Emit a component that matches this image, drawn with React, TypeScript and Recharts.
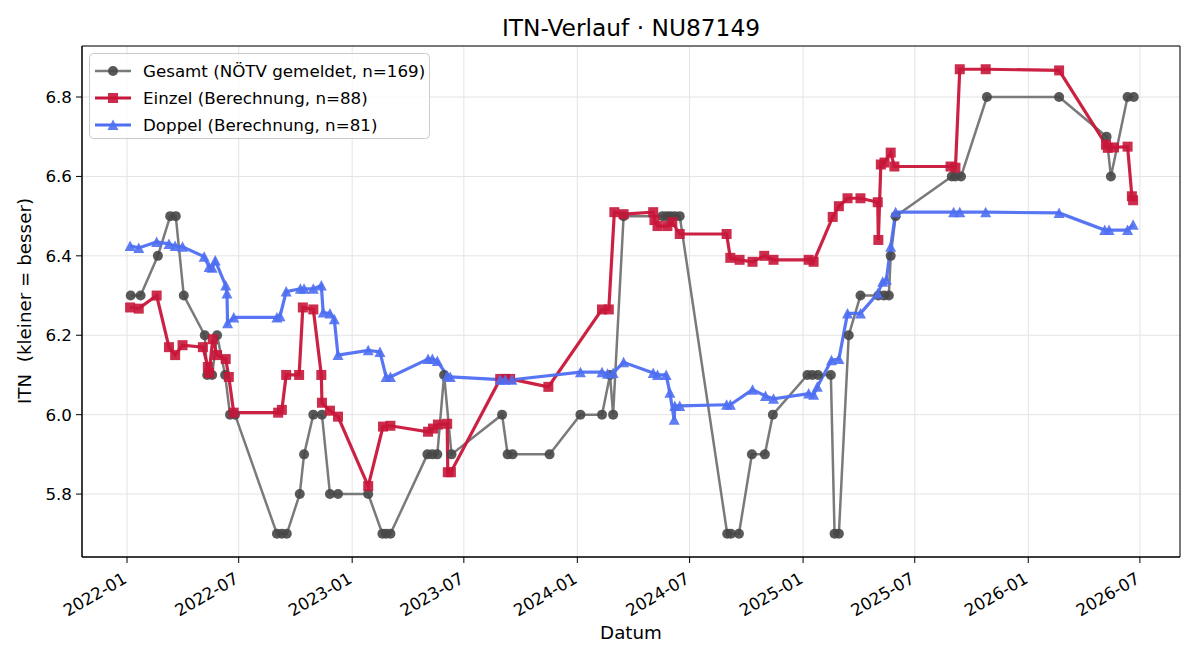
import React from 'react';
import { LineChart, Line, XAxis, YAxis, CartesianGrid, ReferenceArea } from 'recharts';

const gesamtDates = [
  '2022-01-07', '2022-01-23', '2022-02-20', '2022-03-12', '2022-03-21', '2022-04-03',
  '2022-05-07', '2022-05-11', '2022-05-19', '2022-05-27', '2022-06-09', '2022-06-17',
  '2022-06-25', '2022-09-01', '2022-09-09', '2022-09-17', '2022-10-08', '2022-10-15',
  '2022-10-30', '2022-11-13', '2022-11-26', '2022-12-09', '2023-01-27', '2023-02-19',
  '2023-02-25', '2023-03-04', '2023-05-03', '2023-05-11', '2023-05-19', '2023-05-30',
  '2023-06-11', '2023-09-01', '2023-09-10', '2023-09-18', '2023-11-17', '2024-01-06',
  '2024-02-10', '2024-02-23', '2024-02-28', '2024-03-16', '2024-05-18', '2024-05-25',
  '2024-05-31', '2024-06-07', '2024-06-15', '2024-08-31', '2024-09-06', '2024-09-19',
  '2024-10-10', '2024-10-31', '2024-11-13', '2025-01-08', '2025-01-16', '2025-01-25',
  '2025-02-15', '2025-02-21', '2025-02-28', '2025-03-16', '2025-04-04', '2025-05-03',
  '2025-05-12', '2025-05-20', '2025-05-23', '2025-05-31', '2025-08-30', '2025-09-05',
  '2025-09-14', '2025-10-26', '2026-02-20', '2026-05-08', '2026-05-15', '2026-06-11',
  '2026-06-21',
];
const gesamtValues = [
  6.3, 6.3, 6.4, 6.5, 6.5, 6.3,
  6.2, 6.1, 6.1, 6.2, 6.1, 6.0,
  6.0, 5.7, 5.7, 5.7, 5.8, 5.9,
  6.0, 6.0, 5.8, 5.8, 5.8, 5.7,
  5.7, 5.7, 5.9, 5.9, 5.9, 6.1,
  5.9, 6.0, 5.9, 5.9, 5.9, 6.0,
  6.0, 6.1, 6.0, 6.5, 6.5, 6.5,
  6.5, 6.5, 6.5, 5.7, 5.7, 5.7,
  5.9, 5.9, 6.0, 6.1, 6.1, 6.1,
  6.1, 5.7, 5.7, 6.2, 6.3, 6.3,
  6.3, 6.3, 6.4, 6.5, 6.6, 6.6,
  6.6, 6.8, 6.8, 6.7, 6.6, 6.8,
  6.8,
];

const einzelDates = [
  '2022-01-06', '2022-01-20', '2022-02-18', '2022-03-10', '2022-03-20', '2022-04-01',
  '2022-05-04', '2022-05-12', '2022-05-14', '2022-05-20', '2022-05-27', '2022-06-10',
  '2022-06-15', '2022-06-23', '2022-09-03', '2022-09-09', '2022-09-16', '2022-10-07',
  '2022-10-13', '2022-10-30', '2022-11-12', '2022-11-13', '2022-11-26', '2022-12-09',
  '2023-01-27', '2023-02-20', '2023-03-04', '2023-05-04', '2023-05-12', '2023-05-20',
  '2023-06-04', '2023-06-05', '2023-06-10', '2023-08-29', '2023-09-06', '2023-09-14',
  '2023-11-15', '2024-02-10', '2024-02-21', '2024-03-01', '2024-03-16', '2024-05-03',
  '2024-05-05', '2024-05-10', '2024-05-26', '2024-06-03', '2024-06-15', '2024-08-30',
  '2024-09-05', '2024-09-20', '2024-10-11', '2024-10-30', '2024-11-14', '2025-01-10',
  '2025-01-18', '2025-02-18', '2025-02-28', '2025-03-14', '2025-04-04', '2025-05-02',
  '2025-05-03', '2025-05-07', '2025-05-13', '2025-05-23', '2025-05-29', '2025-08-28',
  '2025-09-05', '2025-09-12', '2025-10-24', '2026-02-20', '2026-05-07', '2026-05-10',
  '2026-05-20', '2026-06-11', '2026-06-18', '2026-06-20',
];
const einzelValues = [
  6.27, 6.267, 6.3, 6.17, 6.15, 6.175,
  6.17, 6.12, 6.105, 6.19, 6.15, 6.14,
  6.095, 6.005, 6.005, 6.012, 6.1, 6.1,
  6.27, 6.265, 6.1, 6.03, 6.01, 5.995,
  5.82, 5.97, 5.972, 5.957, 5.965, 5.975,
  5.977, 5.855, 5.855, 6.09, 6.09, 6.09,
  6.07, 6.265, 6.265, 6.51, 6.505, 6.51,
  6.49, 6.475, 6.475, 6.485, 6.455, 6.455,
  6.395, 6.39, 6.385, 6.4, 6.39, 6.39,
  6.385, 6.498, 6.525, 6.545, 6.545, 6.535,
  6.44, 6.63, 6.635, 6.66, 6.625, 6.625,
  6.622, 6.87, 6.87, 6.867, 6.68, 6.672,
  6.673, 6.675, 6.55, 6.54,
];

const doppelDates = [
  '2022-01-06', '2022-01-20', '2022-02-18', '2022-03-10', '2022-03-20', '2022-04-01',
  '2022-05-06', '2022-05-14', '2022-05-19', '2022-05-24', '2022-06-10', '2022-06-12',
  '2022-06-13', '2022-06-23', '2022-09-01', '2022-09-06', '2022-09-16', '2022-10-09',
  '2022-10-15', '2022-10-30', '2022-11-12', '2022-11-15', '2022-11-26', '2022-12-03',
  '2022-12-09', '2023-01-27', '2023-02-15', '2023-02-25', '2023-03-04', '2023-05-04',
  '2023-05-11', '2023-05-19', '2023-06-04', '2023-06-09', '2023-08-29', '2023-09-06',
  '2023-09-17', '2024-01-06', '2024-02-10', '2024-02-19', '2024-02-28', '2024-03-16',
  '2024-05-03', '2024-05-10', '2024-05-24', '2024-05-30', '2024-06-06', '2024-06-07',
  '2024-06-15', '2024-08-30', '2024-09-05', '2024-10-11', '2024-11-01', '2024-11-14',
  '2025-01-10', '2025-01-18', '2025-01-24', '2025-02-16', '2025-02-28', '2025-03-14',
  '2025-04-04', '2025-05-02', '2025-05-10', '2025-05-16', '2025-05-23', '2025-05-31',
  '2025-09-02', '2025-09-12', '2025-10-24', '2026-02-20', '2026-05-05', '2026-05-12',
  '2026-06-11', '2026-06-20',
];
const doppelValues = [
  6.425, 6.42, 6.435, 6.43, 6.425, 6.423,
  6.398, 6.372, 6.37, 6.388, 6.325, 6.305,
  6.23, 6.245, 6.245, 6.248, 6.31, 6.317,
  6.317, 6.317, 6.325, 6.257, 6.255, 6.24,
  6.15, 6.162, 6.158, 6.095, 6.095, 6.14,
  6.14, 6.135, 6.098, 6.095, 6.088, 6.088,
  6.088, 6.107, 6.107, 6.103, 6.105, 6.132,
  6.105, 6.1, 6.1, 6.055, 5.987, 6.022,
  6.022, 6.025, 6.025, 6.063, 6.047, 6.04,
  6.053, 6.05, 6.07, 6.137, 6.14, 6.255,
  6.255, 6.305, 6.335, 6.34, 6.423, 6.51,
  6.51, 6.51, 6.51, 6.508, 6.465, 6.465,
  6.465, 6.478,
];

const xTickMonths = ['2022-01', '2022-07', '2023-01', '2023-07', '2024-01', '2024-07', '2025-01', '2025-07', '2026-01', '2026-07'];
const yTicks = [5.8, 6.0, 6.2, 6.4, 6.6, 6.8];
const xStart = '2021-10-20';
const xEnd = '2026-09-04';
const yMin = 5.6415;
const yMax = 6.9285;

const toTime = (d: string) => Date.parse(d.length === 7 ? d + '-01' : d);
const toSeries = (dates: string[], values: number[]) => dates.map((d, i) => ({ t: toTime(d), v: values[i] }));

const gesamt = toSeries(gesamtDates, gesamtValues);
const einzel = toSeries(einzelDates, einzelValues);
const doppel = toSeries(doppelDates, doppelValues);

const FONT = '"DejaVu Sans", Verdana, sans-serif';
const GRAY_LINE = '#7a7a7a';
const GRAY_DOT = '#474747';
const RED = '#c8163a';
const BLUE = '#4f6ff2';

function CircleDot(props: any) {
  const { cx, cy } = props;
  if (cx == null || cy == null) return null;
  return <circle cx={cx} cy={cy} r={5} fill={GRAY_DOT} fillOpacity={0.9} />;
}

function SquareDot(props: any) {
  const { cx, cy } = props;
  if (cx == null || cy == null) return null;
  return <rect x={cx - 5} y={cy - 5} width={10} height={10} fill={RED} fillOpacity={0.9} />;
}

function TriangleDot(props: any) {
  const { cx, cy } = props;
  if (cx == null || cy == null) return null;
  return <path d={`M${cx},${cy - 5.5}L${cx + 5.5},${cy + 5}L${cx - 5.5},${cy + 5}Z`} fill={BLUE} fillOpacity={0.9} />;
}

function DateTick(props: any) {
  const { x, y, payload } = props;
  const label = new Date(payload.value).toISOString().slice(0, 7);
  const px = x + 1;
  const py = y + 17;
  return (
    <text x={px} y={py} textAnchor="end" fontSize={16.7} fontFamily={FONT} fill="#000" transform={`rotate(-30, ${px}, ${py})`}>
      {label}
    </text>
  );
}

const legendItems = [
  { label: 'Gesamt (NÖTV gemeldet, n=169)', color: GRAY_LINE, marker: 'circle' },
  { label: 'Einzel (Berechnung, n=88)', color: RED, marker: 'square' },
  { label: 'Doppel (Berechnung, n=81)', color: BLUE, marker: 'triangle' },
];

export default function App() {
  return (
    <div style={{ position: 'absolute', left: 0, top: 0, width: 1200, height: 660, background: '#fff', fontFamily: FONT }}>
      <LineChart width={1200} height={660} margin={{ top: 46, right: 20, bottom: 43, left: 22 }}>
        <CartesianGrid stroke="#e3e3e3" strokeWidth={1} />
        <XAxis
          dataKey="t"
          type="number"
          domain={[toTime(xStart), toTime(xEnd)]}
          ticks={xTickMonths.map(toTime)}
          allowDataOverflow
          height={60}
          tick={<DateTick />}
          tickSize={6}
          tickLine={{ stroke: '#000' }}
          axisLine={{ stroke: '#000' }}
          interval={0}
        />
        <YAxis
          dataKey="v"
          type="number"
          domain={[yMin, yMax]}
          ticks={yTicks}
          allowDataOverflow
          width={60}
          tickSize={6}
          tickMargin={4}
          tickFormatter={(v: number) => v.toFixed(1)}
          tick={{ fill: '#000', fontSize: 16.7, fontFamily: FONT }}
          tickLine={{ stroke: '#000' }}
          axisLine={{ stroke: '#000' }}
          interval={0}
        />
        <ReferenceArea x1={toTime(xStart)} x2={toTime(xEnd)} y1={yMin} y2={yMax} fill="none" stroke="#000" strokeWidth={1} ifOverflow="visible" />
        <Line
          data={gesamt}
          dataKey="v"
          type="linear"
          stroke={GRAY_LINE}
          strokeWidth={2.5}
          dot={<CircleDot />}
          activeDot={false}
          isAnimationActive={false}
        />
        <Line
          data={einzel}
          dataKey="v"
          type="linear"
          stroke={RED}
          strokeOpacity={0.95}
          strokeWidth={3.2}
          dot={<SquareDot />}
          activeDot={false}
          isAnimationActive={false}
        />
        <Line
          data={doppel}
          dataKey="v"
          type="linear"
          stroke={BLUE}
          strokeOpacity={0.95}
          strokeWidth={3.2}
          dot={<TriangleDot />}
          activeDot={false}
          isAnimationActive={false}
        />
      </LineChart>

      <svg width={1200} height={660} style={{ position: 'absolute', left: 0, top: 0, pointerEvents: 'none' }} fontFamily={FONT}>
        <text x={631} y={36} textAnchor="middle" fontSize={23.3} fill="#000">ITN-Verlauf · NU87149</text>
        <text x={631} y={639} textAnchor="middle" fontSize={18.3} fill="#000">Datum</text>
        <text transform="translate(31,301) rotate(-90)" textAnchor="middle" fontSize={18.3} fill="#000" style={{ whiteSpace: 'pre' }}>
          {'ITN  (kleiner = besser)'}
        </text>

        <rect x={89.5} y={53.5} width={340} height={85} rx={4} fill="#fff" fillOpacity={0.8} stroke="#cccccc" />
        {legendItems.map((item, i) => {
          const cy = 71 + i * 27;
          return (
            <g key={item.label}>
              <line x1={95} x2={131} y1={cy} y2={cy} stroke={item.color} strokeWidth={item.marker === 'circle' ? 2.5 : 3.2} />
              {item.marker === 'circle' && <CircleDot cx={113} cy={cy} />}
              {item.marker === 'square' && <SquareDot cx={113} cy={cy} />}
              {item.marker === 'triangle' && <TriangleDot cx={113} cy={cy} />}
              <text x={143} y={cy + 6} fontSize={16.7} fill="#000">{item.label}</text>
            </g>
          );
        })}
      </svg>
    </div>
  );
}
